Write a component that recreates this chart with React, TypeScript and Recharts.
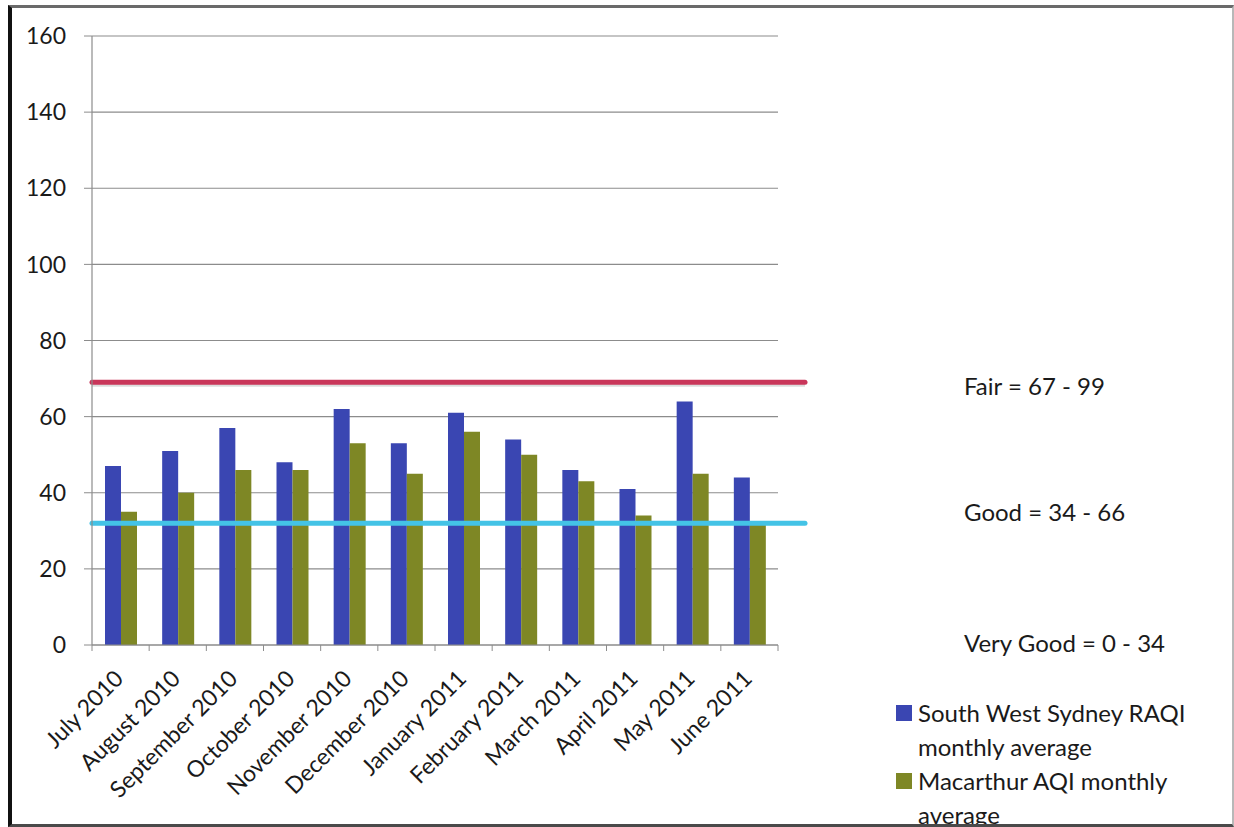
import React from "react"
import { BarChart, Bar, XAxis, YAxis, CartesianGrid, ReferenceLine, Legend } from "recharts"

// Monthly averages, July 2010 - June 2011
const months = [
  "July 2010", "August 2010", "September 2010", "October 2010", "November 2010", "December 2010",
  "January 2011", "February 2011", "March 2011", "April 2011", "May 2011", "June 2011",
]
const swSydneyRaqi = [47, 51, 57, 48, 62, 53, 61, 54, 46, 41, 64, 44]
const macarthurAqi = [35, 40, 46, 46, 53, 45, 56, 50, 43, 34, 45, 32]
const yTicks = [0, 20, 40, 60, 80, 100, 120, 140, 160]

// Band thresholds drawn across the plot
const fairLevel = 69
const goodLevel = 32

const bandLabels = [
  { text: "Fair = 67 - 99", top: 386 },
  { text: "Good = 34 - 66", top: 512 },
  { text: "Very Good = 0 - 34", top: 643 },
]

const seriesNames = ["South West Sydney RAQI monthly average", "Macarthur AQI monthly average"]

const colors = {
  sydney: "#3a46b2",
  macarthur: "#7e8725",
  fair: "#c9365a",
  good: "#44c3e6",
  grid: "#8c8c8c",
  text: "#1a1a1a",
}

const W = 1234
const H = 827
const margin = { top: 36, right: 456, left: 0, bottom: 0 }
const yAxisWidth = 92
const xAxisHeight = 182
const band = (W - margin.right - yAxisWidth) / months.length
const font = "Lato, 'DejaVu Sans', sans-serif"

const data = months.map((m, i) => ({
  month: m,
  sydney: swSydneyRaqi[i],
  macarthur: macarthurAqi[i],
}))

// Excel-style category axis: tick marks sit between categories, labels slanted
function MonthTick(props: any) {
  const { x, y, payload, index } = props
  const left = x - band / 2
  return (
    <g>
      <line x1={left} y1={y} x2={left} y2={y + 6} stroke={colors.grid} />
      {index === months.length - 1 && (
        <line x1={x + band / 2} y1={y} x2={x + band / 2} y2={y + 6} stroke={colors.grid} />
      )}
      <text
        x={x + 4}
        y={y + 35}
        textAnchor="end"
        transform={`rotate(-45 ${x + 4} ${y + 35})`}
        fill={colors.text}
        fontSize={23}
        fontFamily={font}
      >
        {payload.value}
      </text>
    </g>
  )
}

// threshold lines run a little past the last category
const thresholdShape = (color: string, shadow: boolean) => (props: any) => {
  const { x1, y1, x2, y2 } = props
  return (
    <g>
      {shadow && <line x1={x1} y1={y1 + 3} x2={x2 + 27} y2={y2 + 3} stroke="#bbb" strokeWidth={3} opacity={0.5} />}
      <line x1={x1} y1={y1} x2={x2 + 27} y2={y2} stroke={color} strokeWidth={5} strokeLinecap="round" />
    </g>
  )
}

function LegendBox() {
  const items = [
    { color: colors.sydney, lines: ["South West Sydney RAQI", "monthly average"] },
    { color: colors.macarthur, lines: ["Macarthur AQI monthly", "average"] },
  ]
  return (
    <div style={{ fontFamily: font, fontSize: 24, color: colors.text, lineHeight: "34px", textAlign: "left" }}>
      {items.map((it, i) => (
        <div key={i} style={{ display: "flex", alignItems: "flex-start" }}>
          <span style={{ width: 16, height: 16, background: it.color, marginTop: 9, marginRight: 6, flexShrink: 0 }} />
          <span title={seriesNames[i]}>
            {it.lines.map((l) => (
              <div key={l}>{l}</div>
            ))}
          </span>
        </div>
      ))}
    </div>
  )
}

export default function App() {
  return (
    <div style={{ position: "absolute", left: 0, top: 0, width: W, height: H, background: "#fff" }}>
      <BarChart width={W} height={H} data={data} margin={margin} barGap={0} barSize={16}>
        <CartesianGrid vertical={false} stroke={colors.grid} strokeWidth={1.2} />
        <XAxis
          dataKey="month"
          interval={0}
          height={xAxisHeight}
          tick={<MonthTick />}
          tickLine={false}
          tickSize={0}
          tickMargin={0}
          axisLine={{ stroke: colors.grid, strokeWidth: 1.2 }}
        />
        <YAxis
          domain={[0, 160]}
          ticks={yTicks}
          width={yAxisWidth}
          tickSize={8}
          tickMargin={18}
          tick={{ fill: colors.text, fontSize: 23, fontFamily: font }}
          tickLine={{ stroke: colors.grid }}
          axisLine={{ stroke: colors.grid, strokeWidth: 1.2 }}
        />
        <Bar dataKey="sydney" name={seriesNames[0]} fill={colors.sydney} isAnimationActive={false} />
        <Bar dataKey="macarthur" name={seriesNames[1]} fill={colors.macarthur} isAnimationActive={false} />
        <ReferenceLine y={fairLevel} shape={thresholdShape(colors.fair, true)} />
        <ReferenceLine y={goodLevel} shape={thresholdShape(colors.good, false)} />
        {/* middle/center keeps the legend from reserving space in the plot layout */}
        <Legend
          layout="horizontal"
          verticalAlign="middle"
          align="center"
          content={<LegendBox />}
          wrapperStyle={{ position: "absolute", left: 896, top: 696, width: 330, bottom: "auto", right: "auto" }}
        />
      </BarChart>
      {bandLabels.map((b) => (
        <div
          key={b.text}
          style={{
            position: "absolute",
            left: 964,
            top: b.top - 15,
            fontFamily: font,
            fontSize: 24,
            color: colors.text,
            lineHeight: "30px",
            whiteSpace: "nowrap",
          }}
        >
          {b.text}
        </div>
      ))}
      {/* outer frame */}
      <div
        style={{
          position: "absolute",
          left: 8,
          top: 5,
          width: 1220,
          height: 816,
          borderLeft: "4px solid #111",
          borderTop: "3px solid #6a6a6a",
          borderBottom: "3px solid #4a4a4a",
          borderRight: "2px solid #b8b8b8",
          pointerEvents: "none",
        }}
      />
    </div>
  )
}
